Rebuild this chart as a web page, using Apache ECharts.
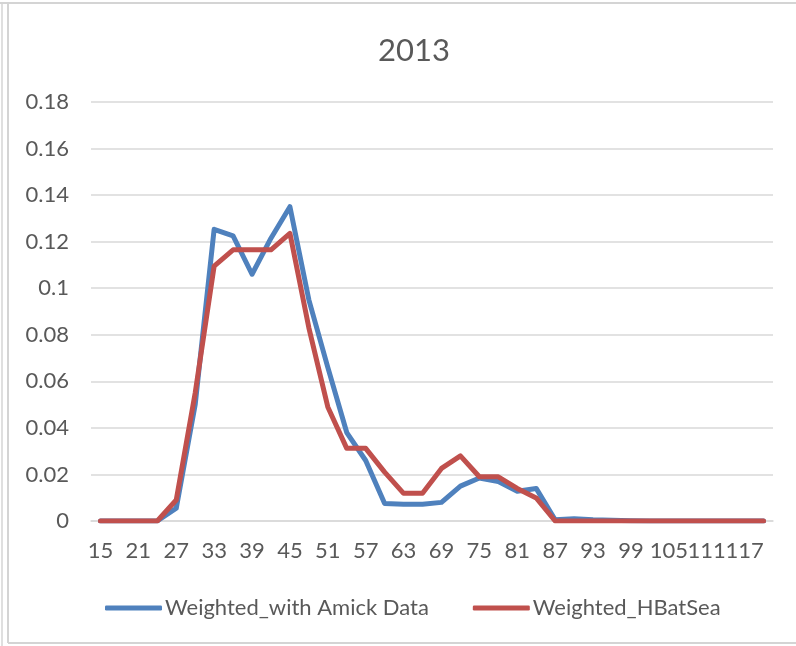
<!DOCTYPE html>
<html>
<head>
<meta charset="utf-8">
<script src="https://cdn.jsdelivr.net/npm/echarts@6/dist/echarts.min.js"></script>
<style>
html,body{margin:0;padding:0;background:#fff;}
#chart{width:796px;height:646px;}
</style>
</head>
<body>
<div id="chart"></div>
<script>
const title = "2013";
const categories = ["15","18","21","24","27","30","33","36","39","42","45","48","51","54","57","60","63","66","69","72","75","78","81","84","87","90","93","96","99","102","105","108","111","114","117","120"];
const amickName = "Weighted_with Amick Data";
const amickValues = [0,0,0,0,0.0055,0.05,0.1253,0.1225,0.106,0.1215,0.135,0.095,0.066,0.038,0.026,0.0075,0.0072,0.0072,0.008,0.015,0.0185,0.017,0.0128,0.014,0.0005,0.001,0.0005,0.0003,0.0001,0,0,0,0,0,0,0];
const hbatName = "Weighted_HBatSea";
const hbatValues = [0,0,0,0,0.009,0.055,0.1095,0.1165,0.1165,0.1165,0.1236,0.083,0.049,0.0312,0.0312,0.021,0.0119,0.0119,0.0226,0.028,0.019,0.019,0.014,0.0099,0,0,0,0,0,0,0,0,0,0,0,0];
const yMin = 0, yMax = 0.18, yStep = 0.02;

const FONT = "Lato";
const TXT = "#595959";
const chart = echarts.init(document.getElementById('chart'), null, {renderer:'canvas'});
chart.setOption({
  animation:false,
  backgroundColor:'#fff',
  title:{text:title,left:409,textAlign:'center',top:30,textStyle:{fontFamily:FONT,fontSize:31,fontWeight:'normal',color:TXT}},
  grid:{left:91,right:23,top:102,bottom:125,containLabel:false},
  legend:{
    left:100, top:592, itemWidth:57, itemHeight:5, itemGap:44, icon:'roundRect',
    textStyle:{fontFamily:FONT,fontSize:22,color:TXT,padding:[0,0,0,-2]},
    data:[amickName,hbatName]
  },
  xAxis:{
    type:'category', data:categories, boundaryGap:true,
    axisLine:{lineStyle:{color:'#d9d9d9',width:1.5}},
    axisTick:{show:false},
    axisLabel:{interval:0,hideOverlap:false,showMinLabel:true,showMaxLabel:true,
      formatter:function(v,i){return i%2===0?v:'';},
      fontFamily:FONT,fontSize:22,color:TXT,margin:19}
  },
  yAxis:{
    type:'value', min:yMin, max:yMax, interval:yStep,
    axisLine:{show:false}, axisTick:{show:false},
    splitLine:{lineStyle:{color:'#d9d9d9',width:1.5}},
    axisLabel:{fontFamily:FONT,fontSize:22,color:TXT,margin:22}
  },
  series:[
    {name:amickName,type:'line',data:amickValues,showSymbol:false,symbol:'none',
     lineStyle:{color:'#4F81BD',width:5,cap:'round',join:'round'},itemStyle:{color:'#4F81BD'}},
    {name:hbatName,type:'line',data:hbatValues,showSymbol:false,symbol:'none',
     lineStyle:{color:'#C0504D',width:5,cap:'round',join:'round'},itemStyle:{color:'#C0504D'}}
  ],
  graphic:[
    {type:'line',shape:{x1:0,y1:3,x2:796,y2:3},style:{stroke:'#d4d4d4',lineWidth:2},silent:true},
    {type:'line',shape:{x1:2,y1:3,x2:2,y2:646},style:{stroke:'#d4d4d4',lineWidth:1.5},silent:true},
    {type:'line',shape:{x1:8,y1:3,x2:8,y2:643},style:{stroke:'#d4d4d4',lineWidth:2},silent:true},
    {type:'line',shape:{x1:8,y1:643,x2:796,y2:643},style:{stroke:'#d4d4d4',lineWidth:2},silent:true}
  ]
});
</script>
</body>
</html>
